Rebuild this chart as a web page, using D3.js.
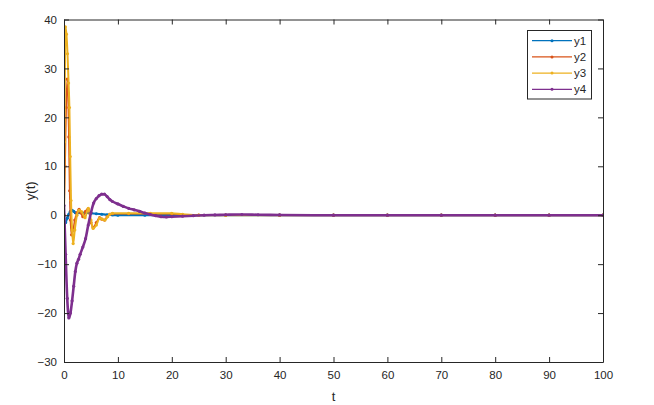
<!DOCTYPE html>
<html>
<head>
<meta charset="utf-8">
<script src="https://cdn.jsdelivr.net/npm/d3@7"></script>
<style>
  body { margin: 0; background: #fff; }
  text { font-family: "Liberation Sans", Arial, sans-serif; fill: #262626; }
</style>
</head>
<body>
<div id="container"></div>
<script>
// Dados
var t1 = [0, 0.3, 0.6, 0.9, 1.2, 1.5, 1.8, 2.1, 2.4, 3, 4, 5, 6, 7, 8, 9, 10, 15, 20, 30, 40, 50, 60, 70, 80, 90, 100]
var y1 = [-2, -1.5, -0.6, 0.2, 0.8, 1, 0.8, 0.5, 0.4, 0.5, 0.5, 0.4, 0.3, 0.2, 0.1, 0.05, 0, 0, 0, 0, 0, 0, 0, 0, 0, 0, 0]

var t2 = [0, 0.2, 0.4, 0.6, 0.75, 0.9, 1.05, 1.2, 1.4, 1.7, 2, 2.4, 2.8, 3.1, 3.5, 4, 4.5, 5, 5.4, 6, 6.6, 7, 7.5, 8, 8.5, 9, 12, 16, 20, 22, 25, 30, 40, 50, 60, 70, 80, 90, 100]
var y2 = [0, 10, 22, 27.8, 25, 16, 5, -1, -4, -3, -1, 0.5, 1.2, 0.5, -0.3, 0.8, 1.3, -1.5, -2.5, -1.5, -0.5, -0.8, -1, -0.3, 0.2, 0.3, 0.3, 0.3, 0.3, 0.1, 0, 0, 0, 0, 0, 0, 0, 0, 0]

var t3 = [0, 0.1, 0.25, 0.45, 0.65, 0.85, 1, 1.15, 1.3, 1.5, 1.7, 2, 2.4, 2.8, 3.3, 3.9, 4.5, 5, 5.4, 6, 6.6, 7.1, 7.6, 8.1, 8.5, 9, 12, 16, 20, 22, 25, 30, 40, 50, 60, 70, 80, 90, 100]
var y3 = [0, 15, 38.5, 37, 33, 27, 22, 12, 3, -3, -5.8, -3, 0, 1, 0.7, -0.5, 1.4, -1, -2.7, -2, -0.6, -0.8, -1, -0.3, 0.2, 0.4, 0.4, 0.4, 0.4, 0.2, 0, 0, 0, 0, 0, 0, 0, 0, 0]

var t4 = [0, 0.3, 0.6, 0.9, 1.2, 1.5, 1.8, 2.1, 2.4, 2.7, 3, 3.5, 4, 4.5, 5, 5.5, 6, 6.5, 7, 7.5, 8, 8.5, 9, 10, 11, 12, 13, 14, 15, 16, 17, 18, 19, 20, 22, 24, 26, 28, 30, 33, 36, 40, 50, 60, 70, 80, 90, 100]
var y4 = [2, -8, -17, -21, -20, -17.5, -14.5, -11.5, -9.8, -9, -8, -6.5, -4.8, -2, 0.5, 2.5, 3.4, 4, 4.3, 4.3, 3.8, 3.2, 2.8, 2.3, 1.8, 1.4, 1.1, 0.8, 0.45, 0.15, -0.1, -0.3, -0.35, -0.3, -0.2, -0.1, 0, 0.05, 0.1, 0.15, 0.1, 0.05, 0, 0, 0, 0, 0, 0]

var seriesNames = ["y1", "y2", "y3", "y4"]
var seriesColors = ["#0072BD", "#D95319", "#EDB120", "#7E2F8E"]
var seriesWidths = [2.2, 1.6, 2, 2.6]
var xTicks = [0, 10, 20, 30, 40, 50, 60, 70, 80, 90, 100]
var yTicks = [-30, -20, -10, 0, 10, 20, 30, 40]

var series = [
  { name: seriesNames[0], color: seriesColors[0], w: seriesWidths[0], t: t1, v: y1 },
  { name: seriesNames[1], color: seriesColors[1], w: seriesWidths[1], t: t2, v: y2 },
  { name: seriesNames[2], color: seriesColors[2], w: seriesWidths[2], t: t3, v: y3 },
  { name: seriesNames[3], color: seriesColors[3], w: seriesWidths[3], t: t4, v: y4 }
]

var W = 654, H = 405
var margin = { top: 19.5, left: 64, right: 51, bottom: 43 },
  width = W - margin.left - margin.right,
  height = H - margin.top - margin.bottom

var svg = d3.select("#container")
  .append("svg")
  .attr("width", W)
  .attr("height", H)

var g = svg.append("g")
  .attr("transform", "translate(" + margin.left + "," + margin.top + ")")

// Escalas
var x = d3.scaleLinear().domain([0, 100]).range([0, width])
var y = d3.scaleLinear().domain([-30, 40]).range([height, 0])

var clip = g.append("clipPath").attr("id", "clip")
clip.append("rect").attr("width", width).attr("height", height)

var line = d3.line()
  .x(function(d) { return x(d[0]) })
  .y(function(d) { return y(d[1]) })
  .curve(d3.curveMonotoneX)

var plot = g.append("g").attr("clip-path", "url(#clip)")

series.forEach(function(s) {
  var pts = s.t.map(function(tt, i) { return [tt, s.v[i]] })
  plot.append("path")
    .datum(pts)
    .attr("d", line)
    .attr("fill", "none")
    .attr("stroke", s.color)
    .attr("stroke-width", s.w)
    .attr("stroke-linejoin", "round")
  plot.selectAll(null)
    .data(pts)
    .enter().append("circle")
    .attr("cx", function(d) { return x(d[0]) })
    .attr("cy", function(d) { return y(d[1]) })
    .attr("r", 1.6)
    .attr("fill", s.color)
})

// Eixos (estilo MATLAB, ticks para dentro, caixa fechada)
var axisColor = "#262626"
var tl = 5

g.append("g")
  .attr("transform", "translate(0," + height + ")")
  .call(d3.axisBottom(x).tickValues(xTicks).tickSizeInner(-tl).tickSizeOuter(0).tickPadding(9))
g.append("g")
  .call(d3.axisLeft(y).tickValues(yTicks).tickSizeInner(-tl).tickSizeOuter(0).tickPadding(7))
g.append("g")
  .call(d3.axisTop(x).tickValues(xTicks).tickSizeInner(-tl).tickSizeOuter(0).tickFormat(""))
g.append("g")
  .attr("transform", "translate(" + width + ",0)")
  .call(d3.axisRight(y).tickValues(yTicks).tickSizeInner(-tl).tickSizeOuter(0).tickFormat(""))

g.selectAll(".domain").attr("stroke", axisColor).attr("stroke-width", 1)
g.selectAll(".tick line").attr("stroke", axisColor).attr("stroke-width", 1)
g.selectAll(".tick text")
  .attr("font-family", "Liberation Sans, Arial, sans-serif")
  .attr("font-size", 11.5)
  .attr("fill", "#262626")

// Rótulos
svg.append("text")
  .text("t")
  .attr("x", margin.left + x(50))
  .attr("y", 401)
  .attr("text-anchor", "middle")
  .attr("font-size", 13)

svg.append("text")
  .text("y(t)")
  .attr("transform", "translate(35," + (margin.top + y(5)) + ") rotate(-90)")
  .attr("text-anchor", "middle")
  .attr("font-size", 13)

// Legenda
var lx = 527.5, ly = 30.5
var legend = svg.append("g")
legend.append("rect")
  .attr("x", lx).attr("y", ly)
  .attr("width", 64).attr("height", 68.5)
  .attr("fill", "#fff")
  .attr("stroke", axisColor)
  .attr("stroke-width", 1)

series.forEach(function(s, i) {
  var yy = 40.7 + i * 16.2
  legend.append("line")
    .attr("x1", 532).attr("x2", 572)
    .attr("y1", yy).attr("y2", yy)
    .attr("stroke", s.color)
    .attr("stroke-width", 1.2)
  legend.append("circle")
    .attr("cx", 552).attr("cy", yy).attr("r", 1.5)
    .attr("fill", s.color)
  legend.append("text")
    .text(s.name)
    .attr("x", 574)
    .attr("y", yy + 4)
    .attr("font-size", 11.5)
})
</script>
</body>
</html>
